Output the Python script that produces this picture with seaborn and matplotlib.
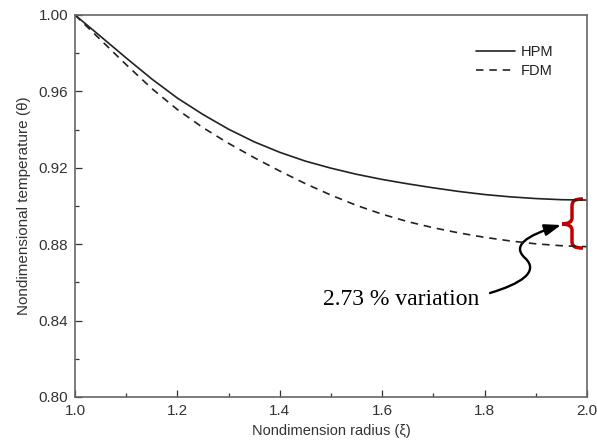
import numpy as np
import pandas as pd
import seaborn as sns
from matplotlib import pyplot as plt
from matplotlib.path import Path
from matplotlib.patches import PathPatch, FancyArrowPatch
from matplotlib.ticker import MultipleLocator

# values
radius = [1.00, 1.05, 1.10, 1.15, 1.20, 1.25, 1.30, 1.35, 1.40, 1.45, 1.50,
          1.55, 1.60, 1.65, 1.70, 1.75, 1.80, 1.85, 1.90, 1.95, 2.00]
theta_hpm = [1.0000, 0.9888, 0.9775, 0.9665, 0.9565, 0.9479, 0.9402, 0.9336,
             0.9281, 0.9235, 0.9198, 0.9166, 0.9139, 0.9116, 0.9095, 0.9076,
             0.9060, 0.9048, 0.9039, 0.9033, 0.9031]
theta_fdm = [1.0000, 0.9870, 0.9740, 0.9615, 0.9505, 0.9410, 0.9328, 0.9253,
             0.9183, 0.9117, 0.9057, 0.9003, 0.8957, 0.8918, 0.8886, 0.8859,
             0.8836, 0.8817, 0.8802, 0.8792, 0.8787]

df = pd.DataFrame({"radius": radius * 2,
                   "theta": theta_hpm + theta_fdm,
                   "method": ["HPM"] * len(radius) + ["FDM"] * len(radius)})

sns.set_style("ticks")
plt.rcParams['font.family'] = ['Liberation Sans', 'DejaVu Sans']

fig = plt.figure(figsize=(5.97, 4.45), dpi=100)
ax = fig.add_axes([75 / 597, 1 - 397 / 445, 512 / 597, 382 / 445])

sns.lineplot(data=df[df.method == "HPM"], x="radius", y="theta", ax=ax,
             color="#222222", lw=1.2, label="HPM")
sns.lineplot(data=df[df.method == "FDM"], x="radius", y="theta", ax=ax,
             color="#222222", lw=1.2, linestyle=(0, (4.5, 3.5)), label="FDM")

ax.set_xlim(1.0, 2.0)
ax.set_ylim(0.80, 1.00)
ax.xaxis.set_major_locator(MultipleLocator(0.2))
ax.xaxis.set_minor_locator(MultipleLocator(0.1))
ax.yaxis.set_major_locator(MultipleLocator(0.04))
ax.yaxis.set_minor_locator(MultipleLocator(0.02))
ax.set_xticklabels([f"{v:.1f}" for v in ax.get_xticks()])
ax.set_yticklabels([f"{v:.2f}" for v in ax.get_yticks()])
ax.tick_params(which="both", direction="in", color="#333333",
               labelsize=11, labelcolor="#333333", width=0.9)
ax.tick_params(which="major", length=5, pad=5)
ax.tick_params(which="minor", length=3)
for s in ax.spines.values():
    s.set_color("#666666")
    s.set_linewidth(1.2)

ax.set_xlabel("Nondimension radius (ξ)", fontsize=10.5, color="#333333", labelpad=4)
ax.set_ylabel("Nondimensional temperature (θ)", fontsize=11, color="#333333", labelpad=5)

leg = ax.legend(loc="upper right", bbox_to_anchor=(0.96, 0.955), frameon=False,
                fontsize=10.5, handlelength=2.7, handletextpad=0.4, labelspacing=0.35)
for t in leg.get_texts():
    t.set_color("#222222")


def px(x, y):
    # reference pixel position -> data coordinates
    return (1 + (x - 75) / 512, 1 - (y - 15) / 1910)


# red curly brace marking the gap at xi = 2
brace = [px(583, 199), px(574, 199), px(572, 201), px(572, 207),
         px(572, 218),
         px(572, 222), px(568, 224), px(562, 224),
         px(568, 224), px(572, 226), px(572, 230),
         px(572, 241),
         px(572, 246), px(574, 248), px(583, 248)]
codes = [Path.MOVETO, Path.CURVE4, Path.CURVE4, Path.CURVE4,
         Path.LINETO,
         Path.CURVE4, Path.CURVE4, Path.CURVE4,
         Path.CURVE4, Path.CURVE4, Path.CURVE4,
         Path.LINETO,
         Path.CURVE4, Path.CURVE4, Path.CURVE4]
ax.add_patch(PathPatch(Path(brace, codes), fill=False, edgecolor="#c00000",
                       lw=2.5, capstyle="butt", clip_on=False))

# S shaped arrow from the text to the brace
arrow_pts = [px(490, 293), px(520, 284), px(540, 272), px(525, 258),
             px(512, 246), px(525, 236), px(561, 225)]
arrow_codes = [Path.MOVETO, Path.CURVE4, Path.CURVE4, Path.CURVE4,
               Path.CURVE4, Path.CURVE4, Path.CURVE4]
arrow = FancyArrowPatch(path=Path(arrow_pts, arrow_codes),
                        arrowstyle="-|>,head_length=0.7,head_width=0.25",
                        mutation_scale=14, lw=1.7, color="black",
                        transform=ax.transData)
ax.add_patch(arrow)

ax.text(*px(323, 305), "2.73 % variation", fontsize=17,
        family=["Liberation Serif", "DejaVu Serif"], color="black",
        ha="left", va="baseline")

plt.savefig("out.png", dpi=100)
